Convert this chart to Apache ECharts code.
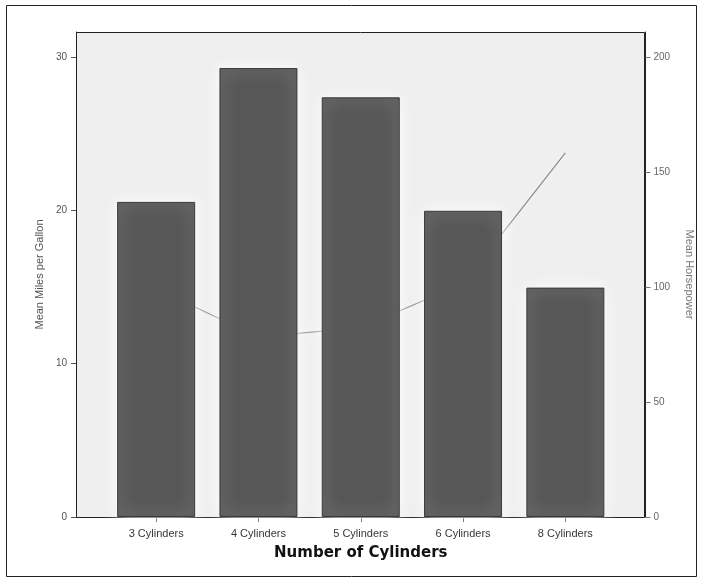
<!DOCTYPE html>
<html>
<head>
<meta charset="utf-8">
<script src="https://cdn.jsdelivr.net/npm/echarts@6/dist/echarts.min.js"></script>
<style>
html,body{margin:0;padding:0;background:#fff;}
#main{width:703px;height:582px;}
</style>
</head>
<body>
<div id="main"></div>
<script>
var categories = ['3 Cylinders', '4 Cylinders', '5 Cylinders', '6 Cylinders', '8 Cylinders'];
var meanMpg = [20.55, 29.28, 27.37, 19.97, 14.96];
var meanHorsepower = [99.25, 78.28, 82.33, 101.51, 158.30];
var mpgTicks = [0, 10, 20, 30];
var hpTicks = [0, 50, 100, 150, 200];

var echart = echarts.init(document.getElementById('main'));

var option = {
	backgroundColor: '#fff',
	animation: false,
	textStyle: { fontFamily: 'Liberation Sans, Arial, sans-serif' },
	graphic: [
		{ type: 'rect', z: -5, silent: true,
			shape: { x: 6.5, y: 5.5, width: 690, height: 571 },
			style: { fill: '#fff', stroke: '#222', lineWidth: 1 } },
		{ type: 'rect', z: -4, silent: true,
			shape: { x: 76.5, y: 32.5, width: 568, height: 485 },
			style: { fill: '#efefef', stroke: '#222', lineWidth: 1 } }
	],
	grid: { left: 105, right: 86.5, top: 32, bottom: 65, containLabel: false },
	xAxis: {
		type: 'category',
		data: categories,
		name: 'Number of Cylinders',
		nameLocation: 'middle',
		nameGap: 29,
		nameTextStyle: { fontSize: 15, fontWeight: 'bold', color: '#111', fontFamily: 'DejaVu Sans' },
		axisLine: { show: true, lineStyle: { color: '#222' } },
		axisTick: { show: true, alignWithLabel: true, length: 5, lineStyle: { color: '#333' } },
		axisLabel: { color: '#333', fontSize: 11, margin: 11 },
		splitLine: { show: false }
	},
	yAxis: [
		{
			type: 'value', min: 0, max: 31.63, offset: 29,
			position: 'left',
			name: 'Mean Miles per Gallon',
			nameLocation: 'middle',
			nameGap: 30,
			nameRotate: 90,
			nameTextStyle: { color: '#555', fontSize: 11 },
			axisLine: { show: true, lineStyle: { color: '#222' } },
			axisTick: { show: true, length: 5, customValues: mpgTicks, lineStyle: { color: '#555' } },
			axisLabel: { color: '#555', fontSize: 10, margin: 9, customValues: mpgTicks },
			splitLine: { show: false }
		},
		{
			type: 'value', min: 0, max: 210.9, offset: 29,
			position: 'right',
			name: 'Mean Horsepower',
			nameLocation: 'middle',
			nameGap: 38,
			nameRotate: -90,
			nameTextStyle: { color: '#777', fontSize: 11 },
			axisLine: { show: true, lineStyle: { color: '#222' } },
			axisTick: { show: true, length: 5, customValues: hpTicks, lineStyle: { color: '#777' } },
			axisLabel: { color: '#666', fontSize: 10, margin: 8, customValues: hpTicks },
			splitLine: { show: false }
		}
	],
	series: [
		{
			name: 'Mean Horsepower',
			type: 'line',
			yAxisIndex: 1,
			z: 1,
			data: meanHorsepower,
			symbol: 'none',
			lineStyle: { color: '#8c8c8c', width: 1.2, shadowColor: '#ffffff', shadowBlur: 8 }
		},
		{
			name: 'Mean Miles per Gallon',
			type: 'bar',
			yAxisIndex: 0,
			z: 2,
			barWidth: 78,
			data: meanMpg,
			itemStyle: {
				color: '#575757',
				borderColor: '#3a3a3a',
				borderWidth: 1,
				shadowColor: 'rgba(255,255,255,1)',
				shadowBlur: 16
			}
		}
	]
};
echart.setOption(option);
</script>
</body>
</html>
